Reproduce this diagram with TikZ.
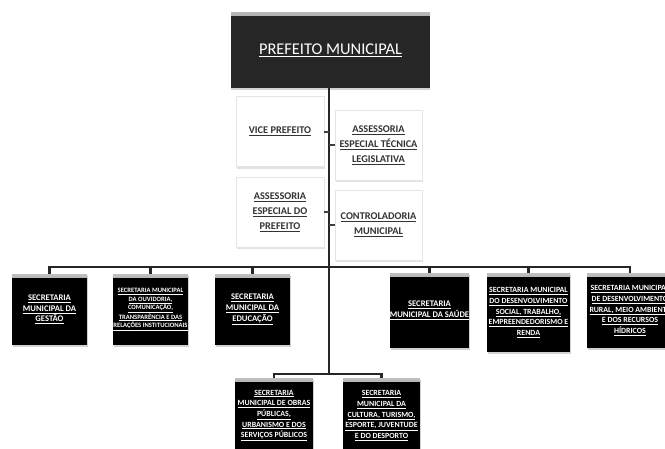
\documentclass[tikz,border=0pt]{standalone}
\usepackage{fontspec}
\setmainfont{Carlito}
\usetikzlibrary{shadows}
\newcommand{\ulin}[1]{\underline{#1}}
\begin{document}
\begin{tikzpicture}[x=1pt,y=-1pt,
  conn/.style={line width=2.6pt, draw=black!85},
  tick/.style={line width=2pt, draw=black!75},
  gloss/.style={path picture={\shade[top color=gray!50, bottom color=black]
      (path picture bounding box.north west) rectangle ([yshift=-3.5pt]path picture bounding box.north east);}},
  chief/.style={fill=black!85, text=white, font=\fontsize{16.4}{19}\selectfont,
      minimum width=199pt, minimum height=76pt, inner sep=0pt,
      path picture={\shade[top color=gray!55, bottom color=black!85]
      (path picture bounding box.north west) rectangle ([yshift=-3.5pt]path picture bounding box.north east);},
      drop shadow={shadow xshift=0pt, shadow yshift=-2pt, fill=gray!70}},
  staff/.style={fill=white, draw=black!10, text=black!80, align=center, inner sep=0pt,
      font=\bfseries\fontsize{10.3}{15}\selectfont, minimum width=88pt, minimum height=70pt,
      drop shadow={shadow xshift=1pt, shadow yshift=-2pt, fill=gray!45}},
  sec/.style={fill=black, text=white, align=center, inner sep=0pt, gloss,
      font=\bfseries\fontsize{8.6}{10.7}\selectfont, minimum width=75pt, minimum height=71pt,
      drop shadow={shadow xshift=1pt, shadow yshift=-2pt, fill=gray!70}},
  small/.style={font=\bfseries\fontsize{6.6}{8.5}\selectfont},
  mid/.style={font=\bfseries\fontsize{7.9}{10.7}\selectfont},
]
\useasboundingbox[fill=white] (0,0) rectangle (665,448);

% top of the hierarchy
\node[chief] (pm) at (330.5,50) {\raisebox{-2pt}{\ulin{PREFEITO MUNICIPAL}}};

% staff offices along the trunk
\node[staff] (vice) at (280,131.5) {\ulin{VICE PREFEITO}};
\node[staff, minimum width=87pt] (aetl) at (378.5,145) {\ulin{ASSESSORIA}\\ \ulin{ESPECIAL TÉCNICA}\\ \ulin{LEGISLATIVA}};
\node[staff] (aep) at (280,212) {\ulin{ASSESSORIA}\\ \ulin{ESPECIAL DO}\\ \ulin{PREFEITO}};
\node[staff, minimum width=87pt] (ctrl) at (378.5,225) {\ulin{CONTROLADORIA}\\ \ulin{MUNICIPAL}};

% trunk and branch coordinates
\coordinate (trunkbot) at (329,374);
\coordinate (barL) at (49,267);
\coordinate (barR) at (630,267);
\coordinate (barM) at (329,267);
\coordinate (lowL) at (274,374);
\coordinate (lowR) at (381.5,374);

% first row of secretariats
\node[sec] (ges) at (49.5,309.5) {\ulin{SECRETARIA}\\ \ulin{MUNICIPAL DA}\\ \ulin{GESTÃO}};
\node[sec, small] (ouv) at (150.5,309.5) {\ulin{SECRETARIA MUNICIPAL}\\ \ulin{DA OUVIDORIA,}\\ \ulin{COMUNICAÇÃO,}\\ \ulin{TRANSPARÊNCIA E DAS}\\ \ulin{RELAÇÕES INSTITUCIONAIS}};
\node[sec] (edu) at (252.5,309.5) {\ulin{SECRETARIA}\\ \ulin{MUNICIPAL DA}\\ \ulin{EDUCAÇÃO}};
\node[sec, minimum width=79pt, minimum height=75pt] (sau) at (429.5,310.5) {\ulin{SECRETARIA}\\ \ulin{MUNICIPAL DA SAÚDE}};
\node[sec, mid, minimum width=83pt, minimum height=79pt] (dsoc) at (528.5,312.5) {\ulin{SECRETARIA MUNICIPAL}\\ \ulin{DO DESENVOLVIMENTO}\\ \ulin{SOCIAL, TRABALHO,}\\ \ulin{EMPREENDEDORISMO E}\\ \ulin{RENDA}};
\node[sec, mid, minimum width=86pt, minimum height=75pt] (rur) at (630,310.5) {\ulin{SECRETARIA MUNICIPAL}\\ \ulin{DE DESENVOLVIMENTO}\\ \ulin{RURAL, MEIO AMBIENTE}\\ \ulin{E DOS RECURSOS}\\ \ulin{HÍDRICOS}};

% lower row of secretariats
\node[sec, mid, minimum width=78pt, minimum height=75pt] (obr) at (274,415.5) {\ulin{SECRETARIA}\\ \ulin{MUNICIPAL DE OBRAS}\\ \ulin{PÚBLICAS,}\\ \ulin{URBANISMO E DOS}\\ \ulin{SERVIÇOS PÚBLICOS}};
\node[sec, mid, minimum width=77pt, minimum height=75pt] (cul) at (381.5,415.5) {\ulin{SECRETARIA}\\ \ulin{MUNICIPAL DA}\\ \ulin{CULTURA, TURISMO,}\\ \ulin{ESPORTE, JUVENTUDE}\\ \ulin{E DO DESPORTO}};

% connectors
\draw[conn] (pm.south -| trunkbot) -- (trunkbot);
\draw[conn, line cap=rect] (barL) -- (barR);
\foreach \n in {ges,ouv,edu,sau,dsoc,rur}
  \draw[conn] (\n.north |- barM) -- (\n.north);
\draw[conn, line cap=rect] (lowL) -- (lowR);
\draw[conn] (lowL) -- (obr.north);
\draw[conn] (lowR) -- (cul.north);

% short stubs to the staff offices
\draw[tick] (vice.east) -- (vice.east -| trunkbot);
\draw[tick] (aep.east) -- (aep.east -| trunkbot);
\draw[tick] (aetl.west) -- (aetl.west -| trunkbot);
\draw[tick] (ctrl.west) -- (ctrl.west -| trunkbot);
\end{tikzpicture}
\end{document}
